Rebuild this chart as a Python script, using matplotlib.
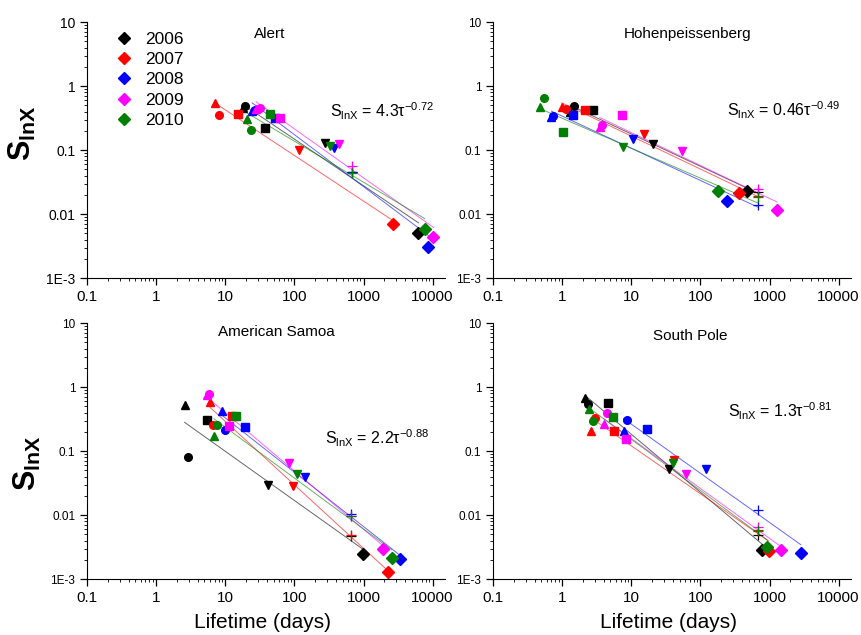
import numpy as np
import matplotlib
matplotlib.use("Agg")
import matplotlib.pyplot as plt
from matplotlib.ticker import FixedLocator, FixedFormatter, LogLocator, NullFormatter
from matplotlib.lines import Line2D

plt.rcParams['font.family'] = ['Liberation Sans', 'DejaVu Sans']
plt.rcParams['mathtext.default'] = 'regular'

years = [2006, 2007, 2008, 2009, 2010]
colors = ['black', 'red', 'blue', 'magenta', 'green']
markers = ['^', 'o', 's', 'v', '+', 'D']
nan = np.nan

# rows = years, columns = marker type (^, o, s, v, +, D); lifetime in days
alert_x = [[18, 19.2, 37.4, 275, 682, 6240],
           [7.2, 8.1, 15.4, 115, nan, 2630],
           [24.5, 26.5, 52, 379, 682, 8700],
           [28, 31.7, 61, 448, 682, 10280],
           [20.8, 23.2, 44.7, 332, 682, 7700]]
alert_y = [[0.46, 0.49, 0.223, 0.130, 0.046, 0.0050],
           [0.556, 0.352, 0.374, 0.100, nan, 0.0069],
           [0.41, 0.43, 0.316, 0.109, 0.045, 0.0031],
           [0.44, 0.46, 0.316, 0.124, 0.056, 0.0044],
           [0.305, 0.205, 0.365, 0.117, 0.044, 0.0058]]

hohen_x = [[1.3, 1.47, 2.81, 20.7, 690, 479],
           [0.98, 1.12, 2.13, 15.4, 690, 362],
           [0.70, 0.743, 1.45, 10.7, 690, 246],
           [3.5, 3.8, 7.4, 54.5, 690, 1285],
           [0.477, 0.546, 1.04, 7.6, 690, 177]]
hohen_y = [[0.397, 0.493, 0.43, 0.123, 0.0225, 0.023],
           [0.475, 0.448, 0.43, 0.176, 0.0195, 0.0215],
           [0.325, 0.34, 0.356, 0.147, 0.0138, 0.0161],
           [0.231, 0.248, 0.361, 0.0964, 0.0243, 0.0118],
           [0.475, 0.665, 0.191, 0.113, 0.0187, 0.023]]

samoa_x = [[2.57, 2.88, 5.5, 41.6, 670, 977],
           [6.0, 6.6, 12.6, 94.6, 670, 2230],
           [8.95, 10, 19, 141, 670, 3360],
           [5.4, 5.8, 11.3, 82.8, 670, 1905],
           [6.86, 7.5, 14.4, 109, 670, 2570]]
samoa_y = [[0.523, 0.0806, 0.308, 0.0294, 0.0047, 0.00248],
           [0.577, 0.261, 0.356, 0.0287, 0.00493, 0.00127],
           [0.42, 0.215, 0.24, 0.0388, 0.0105, 0.00203],
           [0.75, 0.77, 0.248, 0.0656, 0.0098, 0.00298],
           [0.172, 0.261, 0.356, 0.0437, 0.0096, 0.00215]]

spole_x = [[2.16, 2.38, 4.63, 34.6, 692, 789],
           [2.6, 2.95, 5.66, 41.3, 692, 973],
           [7.74, 8.63, 16.6, 122, 692, 2825],
           [3.98, 4.4, 8.36, 61.5, 692, 1452],
           [2.47, 2.76, 5.37, 39.5, 692, 933]]
spole_y = [[0.683, 0.537, 0.57, 0.0518, 0.00494, 0.00284],
           [0.203, 0.333, 0.21, 0.0716, 0.0056, 0.00274],
           [0.21, 0.305, 0.224, 0.0531, 0.0121, 0.00255],
           [0.264, 0.393, 0.154, 0.0432, 0.00649, 0.00281],
           [0.459, 0.294, 0.34, 0.0659, 0.00577, 0.00316]]

stations = ['Alert', 'Hohenpeissenberg', 'American Samoa', 'South Pole']
fit_a = [4.3, 0.46, 2.2, 1.3]
fit_b = [-0.72, -0.49, -0.88, -0.81]

xticks = [0.1, 1, 10, 100, 1000, 10000]
xlabels = ['0.1', '1', '10', '100', '1000', '10000']
yticks = [0.001, 0.01, 0.1, 1, 10]
ylabels = ['1E-3', '0.01', '0.1', '1', '10']

fig = plt.figure(figsize=(8.62, 6.35), dpi=100)
boxes = [[0.101, 0.562, 0.415, 0.403],
         [0.572, 0.562, 0.415, 0.403],
         [0.101, 0.088, 0.415, 0.403],
         [0.572, 0.088, 0.415, 0.403]]
all_x = [alert_x, hohen_x, samoa_x, spole_x]
all_y = [alert_y, hohen_y, samoa_y, spole_y]
title_pos = [(0.51, 0.955), (0.545, 0.955), (0.53, 0.965), (0.55, 0.95)]
eq_pos = [(0.68, 0.65), (0.655, 0.655), (0.665, 0.55), (0.658, 0.655)]

for k in range(4):
    ax = fig.add_axes(boxes[k])
    ax.set_xscale('log')
    ax.set_yscale('log')
    ax.set_xlim(0.1, 15000)
    ax.set_ylim(0.001, 10)
    for i in range(5):
        xs = np.array(all_x[k][i], dtype=float)
        ys = np.array(all_y[k][i], dtype=float)
        ok = ~np.isnan(xs)
        # power-law fit for each year in log-log space
        p = np.polyfit(np.log10(xs[ok]), np.log10(ys[ok]), 1)
        xf = np.array([xs[ok].min(), xs[ok].max()])
        ax.plot(xf, 10 ** np.polyval(p, np.log10(xf)), '-', color=colors[i],
                lw=0.7, alpha=0.6, zorder=1)
        for j, m in enumerate(markers):
            if np.isnan(xs[j]):
                continue
            if m == '+':
                ax.plot(xs[j], ys[j], m, color=colors[i], ms=7, mew=0.9, zorder=2)
            else:
                ax.plot(xs[j], ys[j], m, color=colors[i], ms=5.5 if m != 'D' else 6,
                        mec=colors[i], zorder=3)
    for s in ['top', 'right']:
        ax.spines[s].set_visible(False)
    ax.xaxis.set_major_locator(FixedLocator(xticks))
    ax.xaxis.set_major_formatter(FixedFormatter(xlabels))
    ax.yaxis.set_major_locator(FixedLocator(yticks))
    ax.yaxis.set_major_formatter(FixedFormatter(ylabels))
    ax.xaxis.set_minor_locator(LogLocator(base=10, subs=np.arange(2, 10), numticks=20))
    ax.yaxis.set_minor_locator(LogLocator(base=10, subs=np.arange(2, 10), numticks=20))
    ax.xaxis.set_minor_formatter(NullFormatter())
    ax.yaxis.set_minor_formatter(NullFormatter())
    ax.tick_params(which='major', direction='out', length=5, width=0.9)
    ax.tick_params(which='minor', direction='out', length=2.5, width=0.6)
    ax.tick_params(axis='x', labelsize=11)
    ax.tick_params(axis='y', labelsize=10 if k == 0 else 8.5)
    ax.text(title_pos[k][0], title_pos[k][1], stations[k], transform=ax.transAxes,
            ha='center', va='center', fontsize=11)
    eq = 'S$_{lnX}$ = %g$\\tau^{%g}$' % (fit_a[k], fit_b[k])
    ax.text(eq_pos[k][0], eq_pos[k][1], eq, transform=ax.transAxes,
            ha='left', va='center', fontsize=11.5)
    if k == 0:
        handles = [Line2D([], [], marker='D', ls='none', color=c, ms=6) for c in colors]
        ax.legend(handles, [str(y) for y in years], loc='upper left',
                  bbox_to_anchor=(0.03, 1.025), frameon=False, fontsize=12.5,
                  handletextpad=0.6, labelspacing=0.3, handlelength=1.2)

fig.text(0.026, 0.79, 'S$_{lnX}$', rotation=90, ha='center', va='center',
         fontsize=22, fontweight='bold')
fig.text(0.032, 0.27, 'S$_{lnX}$', rotation=90, ha='center', va='center',
         fontsize=22, fontweight='bold')
fig.text(0.305, 0.02, 'Lifetime (days)', ha='center', va='center', fontsize=15)
fig.text(0.775, 0.02, 'Lifetime (days)', ha='center', va='center', fontsize=15)

fig.savefig('out.png', dpi=100)
